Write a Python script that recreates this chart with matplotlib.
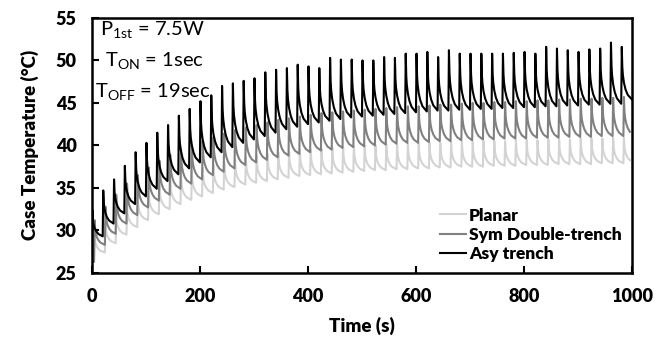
import matplotlib
matplotlib.use('Agg')
import matplotlib.pyplot as plt
import numpy as np

plt.rcParams['font.family'] = ['Lato', 'DejaVu Sans']

# pulse timing (s)
period = 20
n_pulses = 50

# peak / trough temperatures per pulse (degC)
asy_start = 26.5
asy_peak = [32.4, 34.7, 36.0, 37.6, 39.2, 40.3, 41.5, 42.4, 43.5, 44.3,
            45.2, 45.9, 47.0, 47.3, 47.6, 47.9, 48.6, 48.9, 49.1, 49.5,
            49.3, 49.1, 50.3, 50.1, 50.1, 50.0, 50.0, 50.4, 50.3, 50.8,
            50.8, 51.0, 50.4, 51.2, 50.8, 50.8, 50.8, 50.8, 50.8, 50.9,
            51.0, 50.8, 51.6, 51.4, 51.2, 51.0, 51.3, 51.4, 52.1, 51.6]
asy_trough = [29.3, 30.8, 32.0, 33.1, 34.0, 34.9, 35.8, 36.6, 37.3, 38.0,
              38.6, 39.2, 39.8, 40.3, 40.7, 41.1, 41.5, 41.9, 42.2, 42.5,
              42.7, 42.9, 43.1, 43.3, 43.4, 43.5, 43.6, 43.7, 43.8, 43.9,
              44.0, 44.1, 44.1, 44.2, 44.2, 44.3, 44.3, 44.4, 44.4, 44.5,
              44.5, 44.6, 44.6, 44.7, 44.7, 44.8, 44.8, 44.9, 44.9, 45.4]

sym_start = 26.3
sym_peak = [31.2, 32.8, 34.2, 35.5, 36.5, 37.4, 38.2, 38.9, 39.5, 40.0,
            40.5, 41.0, 41.4, 41.8, 42.1, 42.4, 42.7, 43.0, 43.2, 43.4,
            43.6, 43.8, 43.9, 44.0, 44.1, 44.2, 44.3, 44.4, 44.5, 44.6,
            44.6, 44.7, 44.8, 44.8, 44.9, 45.0, 45.0, 45.1, 45.1, 45.2,
            45.2, 45.3, 45.3, 45.4, 45.4, 45.5, 45.5, 45.6, 45.6, 45.7]
sym_trough = [28.3, 29.6, 30.8, 31.8, 32.7, 33.5, 34.2, 34.9, 35.5, 36.0,
              36.5, 36.9, 37.3, 37.7, 38.0, 38.3, 38.6, 38.8, 39.0, 39.2,
              39.4, 39.5, 39.7, 39.8, 39.9, 40.0, 40.1, 40.2, 40.3, 40.3,
              40.4, 40.5, 40.5, 40.6, 40.6, 40.7, 40.7, 40.8, 40.8, 40.8,
              40.9, 40.9, 40.9, 41.0, 41.0, 41.0, 41.1, 41.1, 41.1, 41.2]

planar_start = 27.0
planar_peak = [29.6, 30.9, 32.0, 33.0, 33.9, 34.7, 35.4, 36.0, 36.5, 37.0,
               37.4, 37.7, 38.0, 38.3, 38.6, 38.8, 39.0, 39.2, 39.3, 39.4,
               39.5, 39.6, 39.7, 39.8, 39.9, 40.0, 40.0, 40.1, 40.1, 40.2,
               40.2, 40.3, 40.3, 40.4, 40.4, 40.4, 40.5, 40.5, 40.5, 40.6,
               40.6, 40.6, 40.7, 40.7, 40.7, 40.8, 40.8, 40.8, 40.9, 40.9]
planar_trough = [27.4, 28.5, 29.5, 30.4, 31.2, 31.9, 32.5, 33.1, 33.6, 34.0,
                 34.4, 34.8, 35.1, 35.4, 35.6, 35.8, 36.0, 36.2, 36.4, 36.5,
                 36.6, 36.7, 36.8, 36.9, 37.0, 37.1, 37.1, 37.2, 37.2, 37.3,
                 37.3, 37.4, 37.4, 37.5, 37.5, 37.5, 37.6, 37.6, 37.6, 37.7,
                 37.7, 37.7, 37.8, 37.8, 37.8, 37.8, 37.9, 37.9, 37.9, 38.0]

# cooling shape after each pulse, read from one fin (fraction of swing left)
decay_t = [1, 2, 3, 5, 8, 12, 20]
decay_frac = [1.0, 0.62, 0.47, 0.32, 0.19, 0.09, 0.0]


def build(start, peaks, troughs, offset):
    t = [0.0]
    y = [start]
    prev = start
    for k in range(n_pulses):
        t0 = k * period + offset
        t.append(t0)
        y.append(prev)
        for dt, f in zip(decay_t, decay_frac):
            t.append(t0 + dt)
            y.append(troughs[k] + (peaks[k] - troughs[k]) * f)
        prev = troughs[k]
    t = np.array(t)
    y = np.array(y)
    keep = t <= 1000
    return t[keep], y[keep]


fig, ax = plt.subplots(figsize=(6.66, 3.45), dpi=100)
fig.subplots_adjust(left=0.138, right=0.949, top=0.948, bottom=0.209)

t, y = build(planar_start, planar_peak, planar_trough, 4)
ax.plot(t, y, color='#d3d3d3', lw=1.5, label='Planar')
t, y = build(sym_start, sym_peak, sym_trough, 4)
ax.plot(t, y, color='#808080', lw=1.5, label='Sym Double-trench')
t, y = build(asy_start, asy_peak, asy_trough, 0)
ax.plot(t, y, color='black', lw=1.5, label='Asy trench')

ax.set_xlim(0, 1000)
ax.set_ylim(25, 55)
ax.set_xticks([0, 200, 400, 600, 800, 1000])
ax.set_yticks([25, 30, 35, 40, 45, 50, 55])
ax.tick_params(direction='in', length=5, width=1.5, labelsize=13, pad=11)
for lab in ax.get_xticklabels() + ax.get_yticklabels():
    lab.set_fontweight('heavy')
for s in ax.spines.values():
    s.set_linewidth(1.8)

ax.set_xlabel('Time (s)', fontsize=13.5, fontweight='heavy', labelpad=8)
ax.set_ylabel('Case Temperature (°C)', fontsize=13.5, fontweight='heavy', labelpad=12)

ax.text(0.015, 0.995, 'P$_{\\mathregular{1st}}$ = 7.5W', transform=ax.transAxes,
        fontsize=14.5, va='top', ha='left')
ax.text(0.025, 0.87, 'T$_{\\mathregular{ON}}$ = 1sec', transform=ax.transAxes,
        fontsize=14.5, va='top', ha='left')
ax.text(0.006, 0.75, 'T$_{\\mathregular{OFF}}$ = 19sec', transform=ax.transAxes,
        fontsize=14.5, va='top', ha='left')

leg = ax.legend(loc='lower right', frameon=False, handlelength=1.5,
                handletextpad=0.15, labelspacing=0.2, borderaxespad=0.2,
                prop={'weight': 'heavy', 'size': 12.5})

fig.savefig('out.png', dpi=100)
